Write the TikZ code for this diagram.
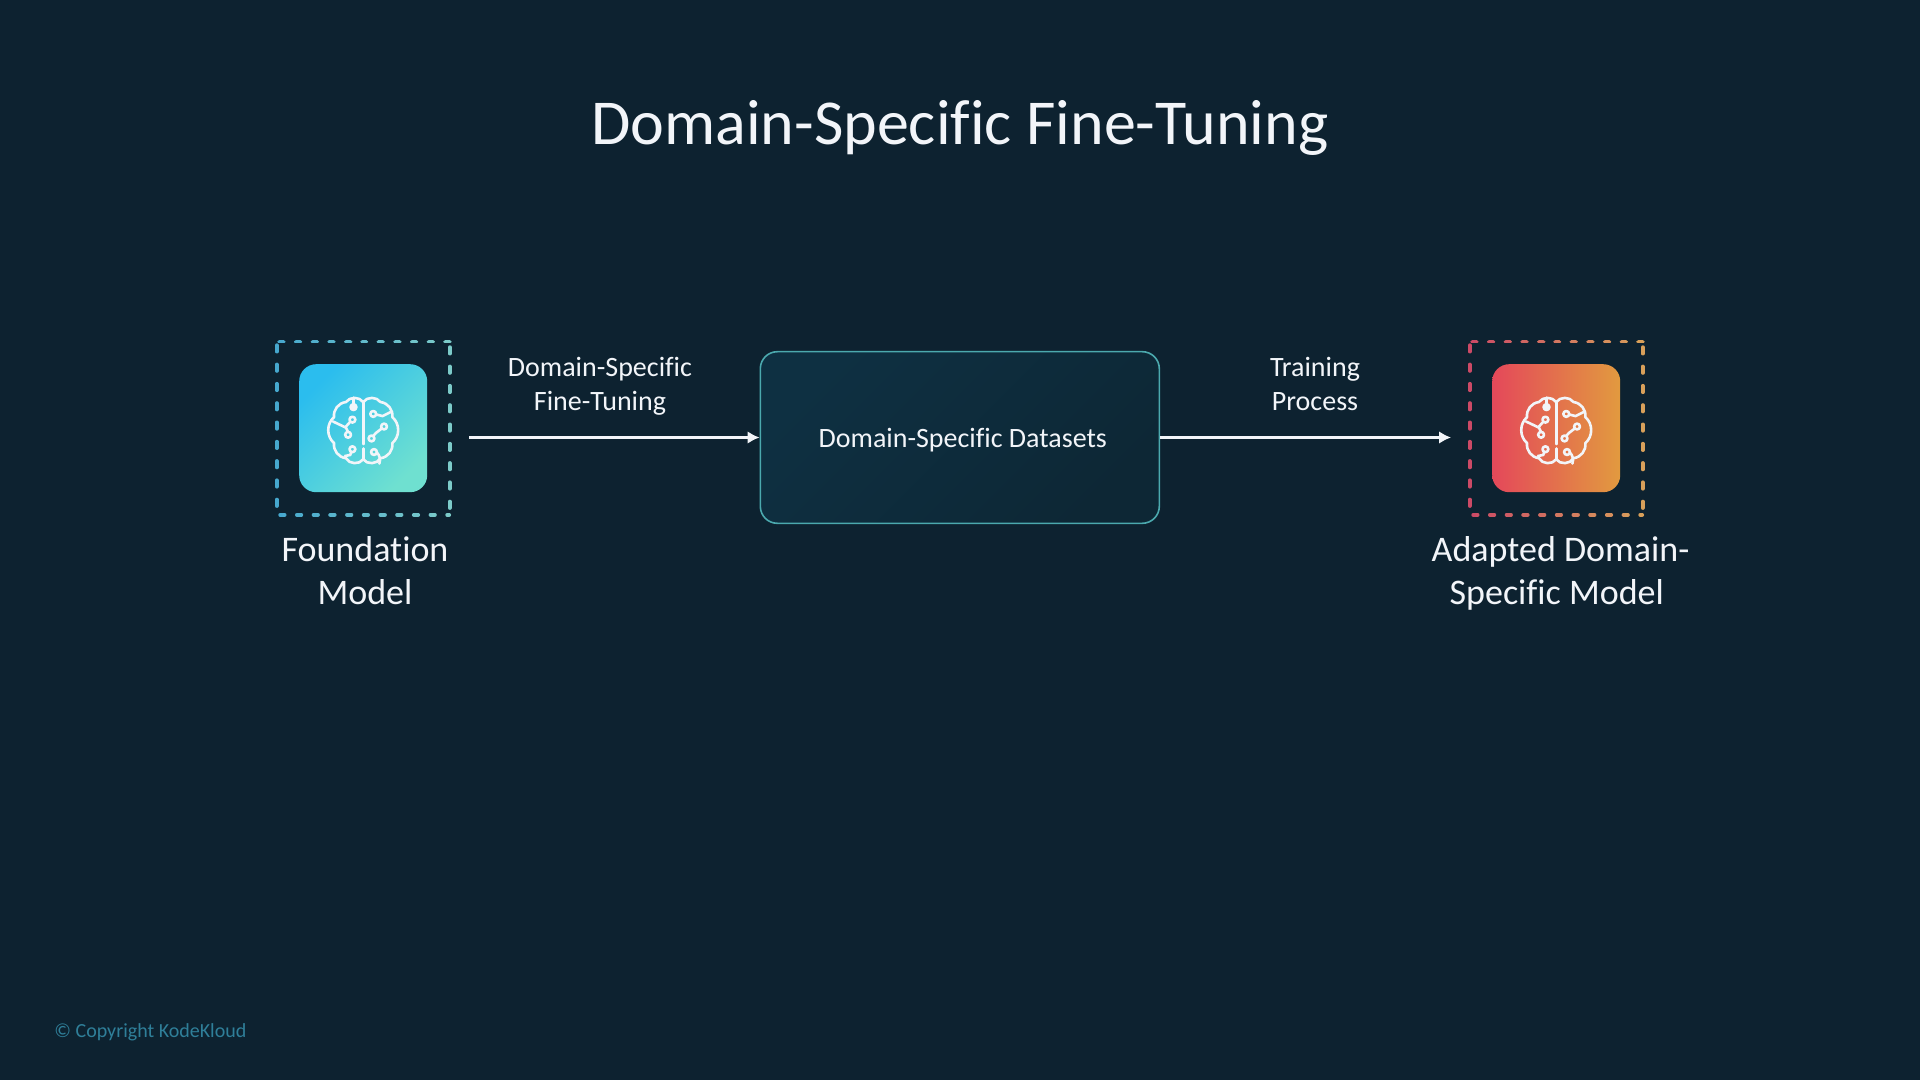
\documentclass[tikz,border=0pt]{standalone}
\usepackage{fontspec}
\setmainfont[Ligatures=CommonOff]{Carlito}
\usetikzlibrary{arrows.meta}
\definecolor{bgdark}{HTML}{0D2230}
\definecolor{boxline}{HTML}{4BA9AE}
\definecolor{boxfilla}{HTML}{0E3042}
\definecolor{boxfillb}{HTML}{0D2735}
\definecolor{textwhite}{HTML}{F2F5F9}
\definecolor{copygray}{HTML}{2F7F99}
\definecolor{coola}{HTML}{2BBDEE}
\definecolor{coolb}{HTML}{6FE0D0}
\definecolor{warma}{HTML}{E4485A}
\definecolor{warmb}{HTML}{E29A3F}
\definecolor{fcoola}{HTML}{46A8CE}
\definecolor{fcoolb}{HTML}{7CCBC9}
\definecolor{fwarma}{HTML}{CC4A66}
\definecolor{fwarmb}{HTML}{D8A05A}
\tikzset{
  modelsquare/.style={minimum size=64pt,inner sep=0pt,rounded corners=8.5pt,shade},
  modelframe/.style={minimum size=86.6pt,inner sep=0pt},
  framehoriz/.style={line width=1.9pt,line cap=round,dash pattern=on 2.2pt off 6.15pt},
  framevert/.style={line width=1.9pt,line cap=round,dash pattern=on 3.2pt off 6.45pt},
  iconline/.style={draw=textwhite,line width=1.3pt,line cap=round,line join=round},
  labeltext/.style={text=textwhite,align=center,font=\fontsize{18}{21.5}\selectfont},
  edgetext/.style={text=textwhite,align=center,font=\fontsize{14}{17}\selectfont},
  flowarrow/.style={-{Latex[length=6pt,width=6.4pt]},draw=textwhite,line width=1.5pt},
}
% one half of the brain outline
\newcommand{\brainhalf}{
\draw[iconline] (0,-27) to[bend left=55] (16,-27) to[bend left=45] (27,-13) to[bend left=50] (27,11) to[bend left=45] (16,25) to[bend left=60] (0,26);
}
\tikzset{
  brainicon/.pic={
    \brainhalf
    \begin{scope}[xscale=-1]\brainhalf\end{scope}
    \draw[iconline] (0,-27)--(0,12) (0,16)--(0,26);
    % left side
    \draw[iconline] (-9,-19.5)--(-9,-31) (-9,-22.3) circle (2.7);
    \draw[iconline] (-12,-8.7)--(-16,-4.3) (-10,-10.7) circle (2.7);
    \draw[iconline] (-14,0.7)--(-16,-3.3)--(-28,-9) (-14,3.3) circle (2.7);
    \draw[iconline] (-11,19)--(-12,22)--(-17,23) (-10,16.7) circle (2.7);
    % right side
    \draw[iconline] (12,-15.5)--(18,-14)--(26,-18) (9.3,-16) circle (2.7);
    \draw[iconline] (17.3,-2.6)--(11.7,1.7)--(9.2,4.6) (19.3,-4.3) circle (2.7);
    \draw[iconline] (7.7,6.7) circle (2.7);
    \draw[iconline] (12.5,19.5) to[bend left=30] (15,30) (10,19.3) circle (2.7);
  }
}
% dashed frame round a model, its colour runs from left to right
\newcommand{\dashframe}[3]{
\foreach \k in {0,...,15}{
\pgfmathsetmacro{\mix}{100-\k*100/15}
\colorlet{framecol}{#2!\mix!#3}
\begin{scope}[shift={(#1)}]
\clip (-92+\k*11.5,-92) rectangle ++(12,184);
\draw[framehoriz,framecol] (-84,-86.6)--(-2,-86.6);
\draw[framehoriz,framecol] (86.5,-86.6)--(-1,-86.6);
\draw[framehoriz,framecol] (-83,86.6)--(86,86.6);
\draw[framevert,framecol] (-86.5,-83)--(-86.5,86);
\draw[framevert,framecol] (86.5,-81)--(86.5,86.6);
\end{scope}
}
}
\begin{document}
\begin{tikzpicture}[x=0.5pt,y=-0.5pt]
\useasboundingbox (0,0) rectangle (1920,1080);
\fill[bgdark] (0,0) rectangle (1920,1080);
\node[text=textwhite,font=\fontsize{32}{38}\selectfont] (title) at (960,127.5) {Domain-Specific Fine-Tuning};
% models
\node[modelframe] (foundationframe) at (363.2,428.2) {};
\node[modelframe] (adaptedframe) at (1556.2,428.2) {};
\dashframe{foundationframe}{fcoola}{fcoolb}
\dashframe{adaptedframe}{fwarma}{fwarmb}
\node[modelsquare,left color=coola,right color=coolb,shading angle=45] (foundation) at (foundationframe) {};
\node[modelsquare,left color=warma,right color=warmb] (adapted) at (adaptedframe) {};
\pic[scale=1.08] at ([yshift=-1.5pt]foundation.center) {brainicon};
\pic[scale=1.08] at ([yshift=-1.5pt]adapted.center) {brainicon};
\node[labeltext] (foundationlabel) at (365,571) {Foundation\\Model};
\node[labeltext] (adaptedlabel) at (1560.5,573) {Adapted Domain-\\Specific Model\hspace*{3.7pt}};
% datasets
\node[draw=boxline,line width=0.8pt,rounded corners=8.5pt,minimum width=199.5pt,minimum height=85.8pt,inner sep=0pt,
  left color=boxfilla,right color=boxfillb,shading angle=45,
  text=textwhite,text height=11pt,text depth=1.2pt,font=\fontsize{14}{17}\selectfont] (datasets) at (959.8,437.5) {\hspace*{3pt}Domain-Specific Datasets};
% arrows
\coordinate (flowstart) at (469,437.5);
\coordinate (flowend) at (1451,437.5);
\draw[flowarrow] (flowstart)--(datasets.west);
\draw[flowarrow] (datasets.east)--(flowend);
\node[edgetext] (tuninglabel) at (600,386.7) {Domain-Specific\\Fine-Tuning};
\node[edgetext] (traininglabel) at (1315,384) {Training\\Process};
\node[text=copygray,anchor=west,inner sep=0pt,font=\fontsize{10}{12}\selectfont] (copyright) at (54,1032) {© Copyright KodeKloud};
\end{tikzpicture}
\end{document}
